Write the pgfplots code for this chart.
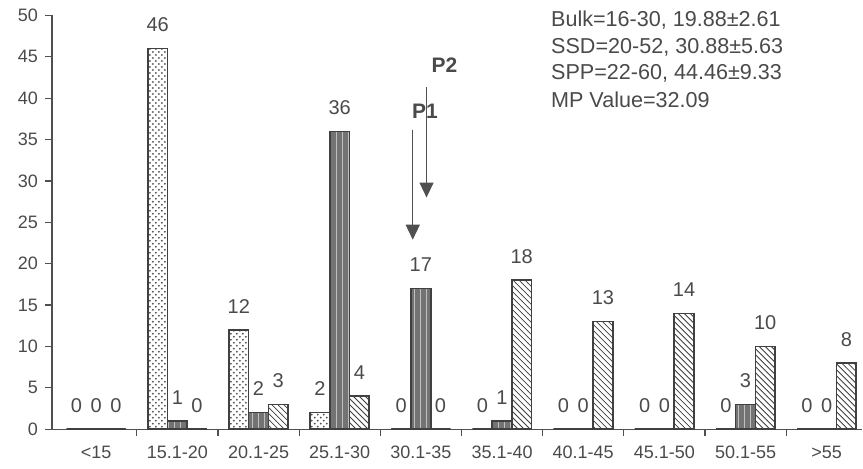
\documentclass[border=0pt]{standalone}
\usepackage{pgfplots}
\pgfplotsset{compat=1.18}
\usepackage{pgfplotstable}
\usepackage{fontspec}
\setmainfont{Liberation Sans}
\usetikzlibrary{patterns,arrows.meta}
\definecolor{txt}{HTML}{4A4A4A}
\definecolor{axl}{HTML}{505050}
\definecolor{edge}{HTML}{404040}
\pgfplotstableread{
x bulk ssd spp
0 0 0 0
1 46 1 0
2 12 2 3
3 2 36 4
4 0 17 0
5 0 1 18
6 0 0 13
7 0 0 14
8 0 3 10
9 0 0 8
}\data
\begin{document}
\begin{tikzpicture}
\path (-26pt,-19.75pt) rectangle (405.5pt,214.75pt);
\begin{axis}[
  at={(0,0)}, anchor=south west,
  scale only axis, width=405.5pt, height=207pt,
  xmin=-0.545, xmax=9.44, ymin=0, ymax=50,
  axis x line=bottom, axis y line=left,
  axis line style={axl, line width=0.6pt, -},
  clip=false,
  ybar=0pt, bar width=9.85pt,
  ytick={0,5,...,50},
  xtick={0,...,9},
  xticklabels={{<15},{15.1-20},{20.1-25},{25.1-30},{30.1-35},{35.1-40},{40.1-45},{45.1-50},{50.1-55},{>55}},
  minor xtick={0.5,1.5,...,8.5},
  major x tick style={draw=none},
  tick align=outside,
  major tick length=3.5pt, minor tick length=3.5pt,
  tick style={axl, line width=0.6pt},
  /pgf/number format/assume math mode=true,
  ticklabel style={font=\fontsize{9}{10}\selectfont, text=txt},
  xticklabel style={yshift=-1.5pt},
  nodes near coords,
  every node near coord/.append style={font=\fontsize{10}{11}\selectfont, text=txt, inner sep=0pt, yshift=8pt, anchor=south},
]
\addplot[draw=edge, line width=0.8pt, fill=white, postaction={pattern=crosshatch dots, pattern color=black!70}] table[x=x,y=bulk] {\data};
\addplot[draw=edge, line width=0.8pt, fill=black!55, postaction={pattern=vertical lines, pattern color=white!75!black}] table[x=x,y=ssd] {\data};
\addplot[draw=edge, line width=0.8pt, fill=white, postaction={pattern=north west lines, pattern color=black!75}] table[x=x,y=spp] {\data};
\draw[axl, line width=0.7pt, -{Triangle[width=7pt,length=7.5pt]}] (axis cs:3.9,36.2) -- (axis cs:3.9,22.9);
\draw[axl, line width=0.7pt, -{Triangle[width=7pt,length=7.5pt]}] (axis cs:4.07,41.3) -- (axis cs:4.07,28.0);
\node[font=\fontsize{10.5}{11}\selectfont\bfseries, text=txt] at (axis cs:4.29,44.0) {P2};
\node[font=\fontsize{10.5}{11}\selectfont\bfseries, text=txt] at (axis cs:4.05,38.4) {P1};
\node[anchor=west, inner sep=0pt, font=\fontsize{10.8}{12}\selectfont, text=txt] at (axis cs:5.6,49.4) {Bulk=16-30, 19.88±2.61};
\node[anchor=west, inner sep=0pt, font=\fontsize{10.8}{12}\selectfont, text=txt] at (axis cs:5.6,46.2) {SSD=20-52, 30.88±5.63};
\node[anchor=west, inner sep=0pt, font=\fontsize{10.8}{12}\selectfont, text=txt] at (axis cs:5.6,43.0) {SPP=22-60, 44.46±9.33};
\node[anchor=west, inner sep=0pt, font=\fontsize{10.8}{12}\selectfont, text=txt] at (axis cs:5.6,39.8) {MP Value=32.09};
\end{axis}
\end{tikzpicture}
\end{document}
